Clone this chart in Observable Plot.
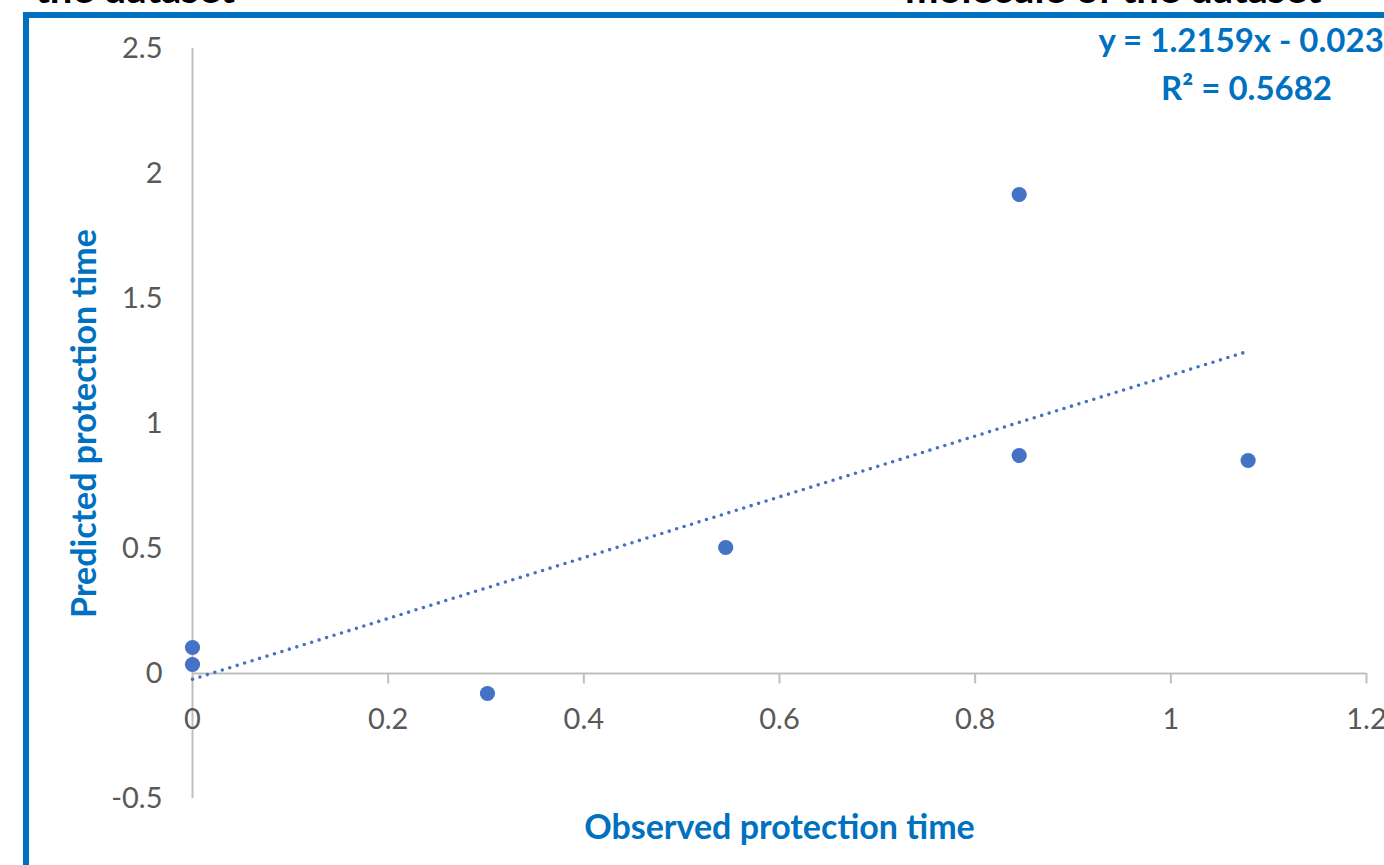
<!DOCTYPE html>
<html>
<head>
<meta charset="utf-8">
<script src="https://cdn.jsdelivr.net/npm/d3@7"></script>
<script src="https://cdn.jsdelivr.net/npm/@observablehq/plot@0.6"></script>
<style>
  html, body { margin: 0; padding: 0; background: #fff; width: 1384px; height: 865px; overflow: hidden; }
  #wrap { position: relative; width: 1384px; height: 865px; overflow: hidden; font-family: Lato, "Open Sans", sans-serif; }
  .hdr { position: absolute; top: -36px; font: bold 40px Lato, sans-serif; color: #000; white-space: nowrap; }
  #box { position: absolute; left: 23px; top: 12px; width: 1400px; height: 900px; border-left: 6px solid #0070C0; border-top: 6px solid #0070C0; box-sizing: border-box; pointer-events: none; }
  #chart { position: absolute; left: 0; top: 0; }
</style>
</head>
<body>
<div id="wrap">
  <div id="chart"></div>
  <div class="hdr" style="right: 1149px;">the dataset</div>
  <div class="hdr" style="left: 905px;">molecule of the dataset</div>
  <div id="box"></div>
</div>
<script>
// Observed vs predicted protection time
const observed  = [0, 0, 0.3015, 0.545, 0.845, 0.845, 1.079];
const predicted = [0.104, 0.036, -0.08, 0.504, 1.916, 0.872, 0.852];
const trendSlope = 1.2159;
const trendIntercept = -0.023;
const xTicks = [0, 0.2, 0.4, 0.6, 0.8, 1, 1.2];
const yTicks = [-0.5, 0, 0.5, 1, 1.5, 2, 2.5];
const xTitle = "Observed protection time";
const yTitle = "Predicted protection time";
const equationLines = ["y = 1.2159x - 0.023", "R² = 0.5682"];

const points = observed.map((x, i) => ({x, y: predicted[i]}));
const xMax = d3.max(observed);
const trend = [0, xMax].map(x => ({x, y: trendSlope * x + trendIntercept}));

const blue = "#4472C4";
const titleBlue = "#0070C0";
const axisGray = "#BFBFBF";
const labelGray = "#595959";

const chart = Plot.plot({
  width: 1384,
  height: 865,
  marginLeft: 192,
  marginRight: 18,
  marginTop: 48,
  marginBottom: 67,
  x: {type: "linear", domain: [0, 1.2], axis: null},
  y: {type: "linear", domain: [-0.5, 2.5], axis: null},
  style: {fontFamily: "Lato, sans-serif", background: "#fff", overflow: "visible"},
  marks: [
    Plot.ruleX([0], {stroke: axisGray, strokeWidth: 2}),
    Plot.ruleY([0], {stroke: axisGray, strokeWidth: 2}),
    Plot.ruleX(xTicks.filter(d => d !== 0), {x: d => d, y1: 0, y2: -0.042, stroke: axisGray, strokeWidth: 2}),
    Plot.text(xTicks, {x: d => d, y: 0, text: d => String(d), dy: 46, fill: labelGray, fontSize: 29, textAnchor: "middle", lineAnchor: "middle"}),
    Plot.text(yTicks, {x: () => 0, y: d => d, text: d => String(d), dx: -30, fill: labelGray, fontSize: 29, textAnchor: "end", lineAnchor: "middle"}),
    Plot.line(trend, {x: "x", y: "y", stroke: blue, strokeWidth: 3.6, strokeDasharray: "0 7.8", strokeLinecap: "round"}),
    Plot.dot(points, {x: "x", y: "y", r: 7.6, fill: blue, stroke: "none"}),
    Plot.text([xTitle], {frameAnchor: "bottom", text: d => d, dy: 30, lineAnchor: "middle", textAnchor: "middle", fill: titleBlue, fontSize: 34, fontWeight: "bold"}),
    Plot.text([yTitle], {frameAnchor: "left", text: d => d, dx: -107, rotate: -90, textAnchor: "middle", lineAnchor: "middle", fill: titleBlue, fontSize: 34, fontWeight: "bold"}),
    Plot.text([equationLines[0]], {frameAnchor: "top-left", text: d => d, dx: 906, dy: -7, lineAnchor: "middle", fill: titleBlue, fontSize: 33, fontWeight: "bold", textAnchor: "start"}),
    Plot.text([equationLines[1]], {frameAnchor: "top-left", text: d => d, dx: 1054, dy: 41, lineAnchor: "middle", fill: titleBlue, fontSize: 33, fontWeight: "bold", textAnchor: "middle"})
  ]
});
document.getElementById("chart").appendChild(chart);
</script>
</body>
</html>
